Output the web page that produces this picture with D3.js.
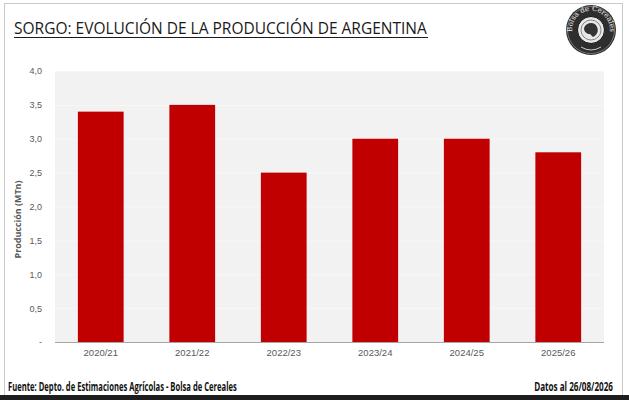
<!DOCTYPE html>
<html>
<head>
<meta charset="utf-8">
<script src="https://cdn.jsdelivr.net/npm/d3@7"></script>
<style>
  body { margin: 0; background: #fff; }
  svg { display: block; font-family: "Open Sans", "Liberation Sans", sans-serif; }
</style>
</head>
<body>
<div id="chart"></div>
<script>
// datos
var campanias = ["2020/21", "2021/22", "2022/23", "2023/24", "2024/25", "2025/26"];
var produccion = [3.4, 3.5, 2.5, 3.0, 3.0, 2.8];
var yTicks = [0, 0.5, 1.0, 1.5, 2.0, 2.5, 3.0, 3.5, 4.0];

var W = 629, H = 400;
var plot = { left: 55, right: 604, top: 71, bottom: 342 };

var svg = d3.select("#chart").append("svg")
  .attr("width", W).attr("height", H);

// texto comprimido a un ancho dado (escala horizontal)
function fitText(sel, width) {
  var len = sel.node().getComputedTextLength();
  var k = width / len;
  sel.attr("transform", sel.attr("transform") + " scale(" + k + ",1)");
  return sel;
}

// marco
svg.append("rect")
  .attr("x", 4.5).attr("y", 3.5).attr("width", 618).attr("height", 400)
  .attr("fill", "#fff").attr("stroke", "#c8c8c8").attr("stroke-width", 1);

var x = d3.scaleBand().domain(campanias)
  .range([plot.left, plot.right]).paddingInner(0.5).paddingOuter(0.25);
var y = d3.scaleLinear().domain([0, 4]).range([plot.bottom, plot.top]);

// fondo del area de grafico
svg.append("rect")
  .attr("x", plot.left).attr("y", plot.top)
  .attr("width", plot.right - plot.left).attr("height", plot.bottom - plot.top)
  .attr("fill", "#f2f2f2");

// grilla
svg.append("g").selectAll("line").data(yTicks.slice(1)).join("line")
  .attr("x1", plot.left).attr("x2", plot.right)
  .attr("y1", function(d) { return y(d) + 0.5; })
  .attr("y2", function(d) { return y(d) + 0.5; })
  .attr("stroke", "#f7f7f7").attr("stroke-width", 1);

// barras
svg.append("g").selectAll("rect").data(produccion).join("rect")
  .attr("x", function(d, i) { return x(campanias[i]); })
  .attr("y", function(d) { return y(d); })
  .attr("width", x.bandwidth())
  .attr("height", function(d) { return y(0) - y(d); })
  .attr("fill", "#c00000");

// eje y
var fmt = function(d) { return d === 0 ? "-" : d3.format(".1f")(d).replace(".", ","); };
var yAxis = svg.append("g")
  .attr("transform", "translate(" + (plot.left - 8) + ",0)")
  .call(d3.axisLeft(y).tickValues(yTicks).tickFormat(fmt).tickSize(0));
yAxis.select(".domain").remove();
yAxis.selectAll("text").attr("fill", "#595959").style("font-size", "9px")
  .attr("dx", "-2");

// eje x
svg.append("line")
  .attr("x1", plot.left).attr("x2", plot.right)
  .attr("y1", plot.bottom + 0.5).attr("y2", plot.bottom + 0.5)
  .attr("stroke", "#a6a6a6").attr("stroke-width", 1);
var xAxis = svg.append("g")
  .attr("transform", "translate(0," + (plot.bottom + 4) + ")")
  .call(d3.axisBottom(x).tickSize(0));
xAxis.select(".domain").remove();
xAxis.selectAll("text").attr("fill", "#595959").style("font-size", "9.5px");

// titulo eje y
fitText(svg.append("text")
  .attr("transform", "translate(21," + ((plot.top + plot.bottom) / 2 + 13) + ") rotate(-90)")
  .attr("text-anchor", "middle")
  .attr("fill", "#595959").style("font-size", "9px").style("font-weight", "bold")
  .text("Producción (MTn)"), 78);

// titulo
fitText(svg.append("text")
  .attr("transform", "translate(14,34)")
  .attr("fill", "#1a1a1a").style("font-size", "17px")
  .text("SORGO: EVOLUCIÓN DE LA PRODUCCIÓN DE ARGENTINA"), 413);
svg.append("line")
  .attr("x1", 14).attr("x2", 428).attr("y1", 37.5).attr("y2", 37.5)
  .attr("stroke", "#1a1a1a").attr("stroke-width", 1.2);

// logo
var logo = svg.append("g").attr("transform", "translate(591,30)");
logo.append("circle").attr("r", 25).attr("fill", "#2e2e2e");
logo.append("circle").attr("r", 23.5).attr("fill", "none").attr("stroke", "#bbb").attr("stroke-width", 0.5);
logo.append("circle").attr("r", 13.5).attr("fill", "#e8e8e8").attr("stroke", "#111").attr("stroke-width", 1);
logo.append("circle").attr("r", 10).attr("fill", "none").attr("stroke", "#444").attr("stroke-width", 0.6);
logo.append("path")
  .attr("d", "M-7,-2 C-5,-8 4,-9 6,-3 C8,1 6,5 2,7 L-1,4 C-4,4 -7,2 -7,-2 Z")
  .attr("fill", "#333");
logo.append("path").attr("id", "arco")
  .attr("d", "M-16,10 A19,19 0 1,1 16,10").attr("fill", "none");
logo.append("text").style("font-size", "7px").attr("fill", "#f2f2f2")
  .style("font-family", "'DejaVu Serif', serif")
  .append("textPath").attr("href", "#arco").attr("startOffset", "50%")
  .attr("text-anchor", "middle").text("Bolsa de Cereales");
logo.append("path")
  .attr("d", "M-10,17 Q0,23 10,17").attr("fill", "none")
  .attr("stroke", "#ccc").attr("stroke-width", 1);

// pie
svg.append("rect").attr("x", 0).attr("y", 395).attr("width", W).attr("height", 5).attr("fill", "#1e1e1e");
fitText(svg.append("text")
  .attr("transform", "translate(8,390.5)")
  .attr("fill", "#111").style("font-size", "11.5px").style("font-weight", "bold")
  .text("Fuente: Depto. de Estimaciones Agrícolas - Bolsa de Cereales"), 229);
fitText(svg.append("text")
  .attr("transform", "translate(613,390.5)").attr("text-anchor", "end")
  .attr("fill", "#111").style("font-size", "11.5px").style("font-weight", "bold")
  .text("Datos al 26/08/2026"), 79);
</script>
</body>
</html>
